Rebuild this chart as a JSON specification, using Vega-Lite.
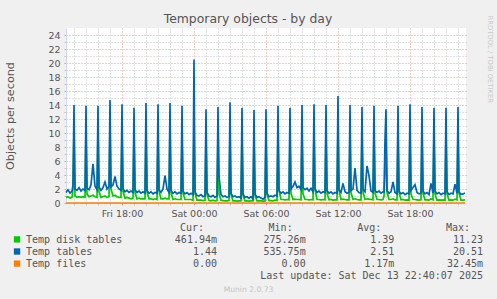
{
"$schema": "https://vega.github.io/schema/vega-lite/v6.json",
"width": 400, "height": 175,
"autosize": "none",
"padding": {"left": 66, "top": 28, "right": 31, "bottom": 96},
"background": "#f0f0f0",
"config": {"font": "DejaVu Sans", "view": {"fill": "#ffffff", "stroke": null}},
"title": {"text": "Temporary objects - by day", "font": "DejaVu Sans", "fontSize": 12.4, "fontWeight": "normal", "color": "#555555", "baseline": "alphabetic", "offset": -20, "dx": -18, "anchor": "middle", "frame": "group"},
"datasets": {
"series": [{"row": 1, "col": 0, "series": "Temp disk tables"}, {"row": 2, "col": 0, "series": "Temp tables"}, {"row": 3, "col": 0, "series": "Temp files"}],
"stats": [
  {"row": 1, "col": 1, "txt": "461.94m"}, {"row": 1, "col": 2, "txt": "275.26m"}, {"row": 1, "col": 3, "txt": "1.39\u00a0"}, {"row": 1, "col": 4, "txt": "11.23\u00a0"},
  {"row": 2, "col": 1, "txt": "1.44\u00a0"}, {"row": 2, "col": 2, "txt": "535.75m"}, {"row": 2, "col": 3, "txt": "2.51\u00a0"}, {"row": 2, "col": 4, "txt": "20.51\u00a0"},
  {"row": 3, "col": 1, "txt": "0.00\u00a0"}, {"row": 3, "col": 2, "txt": "0.00\u00a0"}, {"row": 3, "col": 3, "txt": "1.17m"}, {"row": 3, "col": 4, "txt": "32.45m"},
  {"row": 4, "col": 4, "txt": "Last update: Sat Dec 13 22:40:07 2025"}],
"header": [{"row": 0, "col": 1, "txt": "Cur:"}, {"row": 0, "col": 2, "txt": "Min:"}, {"row": 0, "col": 3, "txt": "Avg:"}, {"row": 0, "col": 4, "txt": "Max:"}],
"ts": [
{"t":"2025-12-12T13:20","d":0.8,"b":1.5,"f":0},
{"t":"2025-12-12T13:30","d":0.9,"b":1.9,"f":0},
{"t":"2025-12-12T13:40","d":0.7,"b":1.4,"f":0},
{"t":"2025-12-12T13:50","d":0.8,"b":1.7,"f":0},
{"t":"2025-12-12T13:55","d":2.0,"b":2.6,"f":0},
{"t":"2025-12-12T14:00","d":10.5,"b":14.0,"f":0},
{"t":"2025-12-12T14:05","d":1.0,"b":2.0,"f":0},
{"t":"2025-12-12T14:15","d":0.8,"b":1.8,"f":0},
{"t":"2025-12-12T14:25","d":0.9,"b":2.2,"f":0},
{"t":"2025-12-12T14:35","d":0.8,"b":1.7,"f":0},
{"t":"2025-12-12T14:45","d":0.9,"b":2.0,"f":0},
{"t":"2025-12-12T14:55","d":0.8,"b":1.8,"f":0},
{"t":"2025-12-12T15:00","d":10.0,"b":13.9,"f":0},
{"t":"2025-12-12T15:05","d":1.3,"b":2.1,"f":0},
{"t":"2025-12-12T15:15","d":0.9,"b":1.9,"f":0},
{"t":"2025-12-12T15:25","d":1.0,"b":2.6,"f":0},
{"t":"2025-12-12T15:35","d":1.1,"b":5.6,"f":0},
{"t":"2025-12-12T15:45","d":0.9,"b":2.4,"f":0},
{"t":"2025-12-12T15:55","d":0.8,"b":1.9,"f":0},
{"t":"2025-12-12T16:00","d":10.2,"b":13.9,"f":0},
{"t":"2025-12-12T16:05","d":1.6,"b":2.3,"f":0},
{"t":"2025-12-12T16:15","d":0.8,"b":1.8,"f":0},
{"t":"2025-12-12T16:25","d":0.9,"b":2.2,"f":0},
{"t":"2025-12-12T16:35","d":1.0,"b":3.0,"f":0},
{"t":"2025-12-12T16:45","d":0.8,"b":2.0,"f":0},
{"t":"2025-12-12T16:55","d":0.9,"b":2.4,"f":0},
{"t":"2025-12-12T17:00","d":11.2,"b":14.7,"f":0},
{"t":"2025-12-12T17:05","d":2.0,"b":2.3,"f":0},
{"t":"2025-12-12T17:15","d":1.0,"b":2.6,"f":0},
{"t":"2025-12-12T17:25","d":1.1,"b":3.8,"f":0},
{"t":"2025-12-12T17:35","d":0.9,"b":2.4,"f":0},
{"t":"2025-12-12T17:45","d":0.8,"b":2.0,"f":0},
{"t":"2025-12-12T17:55","d":0.8,"b":1.8,"f":0},
{"t":"2025-12-12T18:00","d":10.4,"b":14.1,"f":0},
{"t":"2025-12-12T18:05","d":1.7,"b":2.0,"f":0},
{"t":"2025-12-12T18:15","d":0.7,"b":1.6,"f":0},
{"t":"2025-12-12T18:25","d":0.8,"b":1.8,"f":0},
{"t":"2025-12-12T18:35","d":0.7,"b":1.5,"f":0},
{"t":"2025-12-12T18:45","d":0.6,"b":1.7,"f":0},
{"t":"2025-12-12T18:55","d":0.7,"b":1.5,"f":0},
{"t":"2025-12-12T19:00","d":9.8,"b":13.6,"f":0},
{"t":"2025-12-12T19:05","d":1.5,"b":1.9,"f":0},
{"t":"2025-12-12T19:15","d":0.6,"b":1.5,"f":0},
{"t":"2025-12-12T19:25","d":0.7,"b":1.7,"f":0},
{"t":"2025-12-12T19:35","d":0.6,"b":1.4,"f":0},
{"t":"2025-12-12T19:45","d":0.6,"b":1.6,"f":0},
{"t":"2025-12-12T19:55","d":0.6,"b":1.4,"f":0},
{"t":"2025-12-12T20:00","d":10.6,"b":14.3,"f":0},
{"t":"2025-12-12T20:05","d":1.6,"b":1.8,"f":0},
{"t":"2025-12-12T20:15","d":0.6,"b":1.4,"f":0},
{"t":"2025-12-12T20:25","d":0.6,"b":1.6,"f":0},
{"t":"2025-12-12T20:35","d":0.5,"b":1.3,"f":0},
{"t":"2025-12-12T20:45","d":0.6,"b":1.5,"f":0},
{"t":"2025-12-12T20:55","d":0.5,"b":1.4,"f":0},
{"t":"2025-12-12T21:00","d":10.1,"b":14.1,"f":0},
{"t":"2025-12-12T21:05","d":1.7,"b":1.9,"f":0},
{"t":"2025-12-12T21:15","d":0.6,"b":1.5,"f":0},
{"t":"2025-12-12T21:25","d":0.6,"b":2.0,"f":0},
{"t":"2025-12-12T21:35","d":0.7,"b":3.9,"f":0},
{"t":"2025-12-12T21:45","d":0.6,"b":2.0,"f":0},
{"t":"2025-12-12T21:55","d":0.6,"b":1.5,"f":0},
{"t":"2025-12-12T22:00","d":10.8,"b":14.3,"f":0},
{"t":"2025-12-12T22:05","d":1.5,"b":1.8,"f":0},
{"t":"2025-12-12T22:15","d":0.5,"b":1.4,"f":0},
{"t":"2025-12-12T22:25","d":0.6,"b":1.6,"f":0},
{"t":"2025-12-12T22:35","d":0.5,"b":1.3,"f":0},
{"t":"2025-12-12T22:45","d":0.5,"b":1.5,"f":0},
{"t":"2025-12-12T22:55","d":0.5,"b":1.4,"f":0},
{"t":"2025-12-12T23:00","d":9.9,"b":13.9,"f":0},
{"t":"2025-12-12T23:05","d":1.4,"b":1.7,"f":0},
{"t":"2025-12-12T23:15","d":0.5,"b":1.3,"f":0},
{"t":"2025-12-12T23:25","d":0.5,"b":1.5,"f":0},
{"t":"2025-12-12T23:35","d":0.5,"b":1.2,"f":0},
{"t":"2025-12-12T23:45","d":0.5,"b":1.4,"f":0},
{"t":"2025-12-12T23:55","d":0.4,"b":1.2,"f":0},
{"t":"2025-12-13T00:00","d":11.0,"b":20.5,"f":0},
{"t":"2025-12-13T00:05","d":1.4,"b":1.6,"f":0},
{"t":"2025-12-13T00:15","d":0.4,"b":1.1,"f":0},
{"t":"2025-12-13T00:25","d":0.4,"b":1.0,"f":0},
{"t":"2025-12-13T00:35","d":0.4,"b":1.2,"f":0},
{"t":"2025-12-13T00:45","d":0.35,"b":0.9,"f":0},
{"t":"2025-12-13T00:55","d":0.4,"b":1.0,"f":0},
{"t":"2025-12-13T01:00","d":9.6,"b":13.4,"f":0},
{"t":"2025-12-13T01:05","d":1.2,"b":1.5,"f":0},
{"t":"2025-12-13T01:15","d":0.35,"b":1.0,"f":0},
{"t":"2025-12-13T01:25","d":0.3,"b":0.9,"f":0},
{"t":"2025-12-13T01:35","d":0.4,"b":1.1,"f":0},
{"t":"2025-12-13T01:45","d":0.3,"b":0.8,"f":0},
{"t":"2025-12-13T01:55","d":0.35,"b":1.0,"f":0},
{"t":"2025-12-13T02:00","d":10.0,"b":13.7,"f":0},
{"t":"2025-12-13T02:05","d":1.3,"b":3.8,"f":0.03},
{"t":"2025-12-13T02:15","d":0.4,"b":1.2,"f":0},
{"t":"2025-12-13T02:25","d":0.35,"b":0.9,"f":0},
{"t":"2025-12-13T02:35","d":0.3,"b":1.0,"f":0},
{"t":"2025-12-13T02:45","d":0.3,"b":0.8,"f":0},
{"t":"2025-12-13T02:55","d":0.35,"b":0.9,"f":0},
{"t":"2025-12-13T03:00","d":10.4,"b":14.4,"f":0},
{"t":"2025-12-13T03:05","d":1.2,"b":1.4,"f":0},
{"t":"2025-12-13T03:15","d":0.3,"b":0.9,"f":0},
{"t":"2025-12-13T03:25","d":0.3,"b":1.0,"f":0},
{"t":"2025-12-13T03:35","d":0.28,"b":0.8,"f":0},
{"t":"2025-12-13T03:45","d":0.3,"b":0.9,"f":0},
{"t":"2025-12-13T03:55","d":0.3,"b":0.7,"f":0},
{"t":"2025-12-13T04:00","d":9.8,"b":13.6,"f":0},
{"t":"2025-12-13T04:05","d":1.1,"b":1.3,"f":0},
{"t":"2025-12-13T04:15","d":0.3,"b":0.8,"f":0},
{"t":"2025-12-13T04:25","d":0.3,"b":0.9,"f":0},
{"t":"2025-12-13T04:35","d":0.28,"b":0.7,"f":0},
{"t":"2025-12-13T04:45","d":0.3,"b":0.9,"f":0},
{"t":"2025-12-13T04:55","d":0.3,"b":0.6,"f":0},
{"t":"2025-12-13T05:00","d":9.5,"b":13.3,"f":0},
{"t":"2025-12-13T05:05","d":1.1,"b":1.3,"f":0},
{"t":"2025-12-13T05:15","d":0.3,"b":0.8,"f":0},
{"t":"2025-12-13T05:25","d":0.3,"b":0.9,"f":0},
{"t":"2025-12-13T05:35","d":0.3,"b":0.7,"f":0},
{"t":"2025-12-13T05:45","d":0.28,"b":0.54,"f":0},
{"t":"2025-12-13T05:55","d":0.3,"b":0.8,"f":0},
{"t":"2025-12-13T06:00","d":9.7,"b":13.4,"f":0},
{"t":"2025-12-13T06:05","d":1.2,"b":1.4,"f":0},
{"t":"2025-12-13T06:15","d":0.35,"b":0.9,"f":0},
{"t":"2025-12-13T06:25","d":0.35,"b":1.0,"f":0},
{"t":"2025-12-13T06:35","d":0.3,"b":0.9,"f":0},
{"t":"2025-12-13T06:45","d":0.4,"b":1.1,"f":0},
{"t":"2025-12-13T06:55","d":0.35,"b":1.0,"f":0},
{"t":"2025-12-13T07:00","d":10.0,"b":13.9,"f":0},
{"t":"2025-12-13T07:05","d":1.8,"b":1.8,"f":0},
{"t":"2025-12-13T07:15","d":0.5,"b":1.4,"f":0},
{"t":"2025-12-13T07:25","d":0.5,"b":1.6,"f":0},
{"t":"2025-12-13T07:35","d":0.45,"b":1.3,"f":0},
{"t":"2025-12-13T07:45","d":0.5,"b":1.5,"f":0},
{"t":"2025-12-13T07:55","d":0.45,"b":1.4,"f":0},
{"t":"2025-12-13T08:00","d":9.9,"b":13.6,"f":0},
{"t":"2025-12-13T08:05","d":1.4,"b":2.0,"f":0},
{"t":"2025-12-13T08:15","d":0.5,"b":2.4,"f":0},
{"t":"2025-12-13T08:25","d":0.55,"b":3.0,"f":0},
{"t":"2025-12-13T08:35","d":0.5,"b":2.2,"f":0},
{"t":"2025-12-13T08:45","d":0.5,"b":2.4,"f":0},
{"t":"2025-12-13T08:55","d":0.45,"b":1.9,"f":0},
{"t":"2025-12-13T09:00","d":10.2,"b":14.0,"f":0},
{"t":"2025-12-13T09:05","d":1.3,"b":2.2,"f":0},
{"t":"2025-12-13T09:15","d":0.5,"b":1.9,"f":0},
{"t":"2025-12-13T09:25","d":0.5,"b":2.1,"f":0},
{"t":"2025-12-13T09:35","d":0.45,"b":1.7,"f":0},
{"t":"2025-12-13T09:45","d":0.5,"b":2.1,"f":0},
{"t":"2025-12-13T09:55","d":0.45,"b":1.6,"f":0},
{"t":"2025-12-13T10:00","d":10.3,"b":14.1,"f":0},
{"t":"2025-12-13T10:05","d":2.0,"b":2.0,"f":0},
{"t":"2025-12-13T10:15","d":0.5,"b":1.5,"f":0},
{"t":"2025-12-13T10:25","d":0.5,"b":1.7,"f":0},
{"t":"2025-12-13T10:35","d":0.45,"b":1.4,"f":0},
{"t":"2025-12-13T10:45","d":0.5,"b":1.6,"f":0},
{"t":"2025-12-13T10:55","d":0.45,"b":1.5,"f":0},
{"t":"2025-12-13T11:00","d":10.1,"b":14.0,"f":0},
{"t":"2025-12-13T11:05","d":1.4,"b":1.8,"f":0},
{"t":"2025-12-13T11:15","d":0.45,"b":1.4,"f":0},
{"t":"2025-12-13T11:25","d":0.5,"b":1.6,"f":0},
{"t":"2025-12-13T11:35","d":0.4,"b":1.3,"f":0},
{"t":"2025-12-13T11:45","d":0.45,"b":1.5,"f":0},
{"t":"2025-12-13T11:55","d":0.45,"b":1.4,"f":0},
{"t":"2025-12-13T12:00","d":11.0,"b":15.3,"f":0},
{"t":"2025-12-13T12:05","d":1.8,"b":1.9,"f":0},
{"t":"2025-12-13T12:15","d":0.5,"b":1.5,"f":0},
{"t":"2025-12-13T12:25","d":0.55,"b":2.8,"f":0},
{"t":"2025-12-13T12:35","d":0.5,"b":1.6,"f":0},
{"t":"2025-12-13T12:45","d":0.45,"b":1.4,"f":0},
{"t":"2025-12-13T12:55","d":0.45,"b":1.5,"f":0},
{"t":"2025-12-13T13:00","d":10.3,"b":14.0,"f":0},
{"t":"2025-12-13T13:05","d":1.5,"b":1.8,"f":0},
{"t":"2025-12-13T13:15","d":0.5,"b":2.0,"f":0},
{"t":"2025-12-13T13:25","d":0.6,"b":5.0,"f":0},
{"t":"2025-12-13T13:35","d":0.5,"b":1.8,"f":0},
{"t":"2025-12-13T13:45","d":0.45,"b":1.5,"f":0},
{"t":"2025-12-13T13:55","d":0.45,"b":1.4,"f":0},
{"t":"2025-12-13T14:00","d":10.0,"b":13.7,"f":0},
{"t":"2025-12-13T14:05","d":1.6,"b":1.9,"f":0},
{"t":"2025-12-13T14:15","d":0.5,"b":1.6,"f":0},
{"t":"2025-12-13T14:25","d":0.6,"b":5.3,"f":0},
{"t":"2025-12-13T14:35","d":0.55,"b":3.9,"f":0},
{"t":"2025-12-13T14:45","d":0.5,"b":1.7,"f":0},
{"t":"2025-12-13T14:55","d":0.45,"b":1.5,"f":0},
{"t":"2025-12-13T15:00","d":10.2,"b":13.9,"f":0},
{"t":"2025-12-13T15:05","d":1.5,"b":1.8,"f":0},
{"t":"2025-12-13T15:15","d":0.5,"b":1.5,"f":0},
{"t":"2025-12-13T15:25","d":0.5,"b":1.7,"f":0},
{"t":"2025-12-13T15:35","d":0.45,"b":1.4,"f":0},
{"t":"2025-12-13T15:45","d":0.5,"b":1.6,"f":0},
{"t":"2025-12-13T15:50","d":1.0,"b":1.6,"f":0},
{"t":"2025-12-13T15:55","d":4.0,"b":9.0,"f":0},
{"t":"2025-12-13T16:00","d":10.4,"b":13.4,"f":0},
{"t":"2025-12-13T16:05","d":1.6,"b":1.8,"f":0},
{"t":"2025-12-13T16:15","d":0.5,"b":1.4,"f":0},
{"t":"2025-12-13T16:25","d":0.5,"b":1.6,"f":0},
{"t":"2025-12-13T16:35","d":0.6,"b":3.0,"f":0},
{"t":"2025-12-13T16:45","d":0.45,"b":1.5,"f":0},
{"t":"2025-12-13T16:55","d":0.45,"b":1.3,"f":0},
{"t":"2025-12-13T17:00","d":10.1,"b":13.9,"f":0},
{"t":"2025-12-13T17:05","d":1.5,"b":1.7,"f":0},
{"t":"2025-12-13T17:15","d":0.45,"b":1.3,"f":0},
{"t":"2025-12-13T17:25","d":0.5,"b":1.5,"f":0},
{"t":"2025-12-13T17:35","d":0.4,"b":1.2,"f":0},
{"t":"2025-12-13T17:45","d":0.45,"b":1.4,"f":0},
{"t":"2025-12-13T17:55","d":0.4,"b":1.3,"f":0},
{"t":"2025-12-13T18:00","d":10.5,"b":14.1,"f":0},
{"t":"2025-12-13T18:05","d":1.3,"b":1.8,"f":0},
{"t":"2025-12-13T18:15","d":0.5,"b":2.2,"f":0},
{"t":"2025-12-13T18:25","d":0.5,"b":2.6,"f":0},
{"t":"2025-12-13T18:35","d":0.45,"b":1.5,"f":0},
{"t":"2025-12-13T18:45","d":0.4,"b":1.3,"f":0},
{"t":"2025-12-13T18:55","d":0.45,"b":1.4,"f":0},
{"t":"2025-12-13T19:00","d":9.9,"b":13.7,"f":0},
{"t":"2025-12-13T19:05","d":1.4,"b":1.7,"f":0},
{"t":"2025-12-13T19:15","d":0.45,"b":1.3,"f":0},
{"t":"2025-12-13T19:25","d":0.45,"b":1.5,"f":0},
{"t":"2025-12-13T19:35","d":0.4,"b":1.2,"f":0},
{"t":"2025-12-13T19:45","d":0.6,"b":2.8,"f":0},
{"t":"2025-12-13T19:55","d":0.45,"b":1.4,"f":0},
{"t":"2025-12-13T20:00","d":9.8,"b":13.6,"f":0},
{"t":"2025-12-13T20:05","d":1.3,"b":1.7,"f":0},
{"t":"2025-12-13T20:15","d":0.4,"b":1.3,"f":0},
{"t":"2025-12-13T20:25","d":0.45,"b":1.5,"f":0},
{"t":"2025-12-13T20:35","d":0.4,"b":1.2,"f":0},
{"t":"2025-12-13T20:45","d":0.45,"b":1.4,"f":0},
{"t":"2025-12-13T20:55","d":0.4,"b":1.3,"f":0},
{"t":"2025-12-13T21:00","d":9.9,"b":13.6,"f":0},
{"t":"2025-12-13T21:05","d":1.3,"b":1.6,"f":0},
{"t":"2025-12-13T21:15","d":0.4,"b":1.2,"f":0},
{"t":"2025-12-13T21:25","d":0.45,"b":1.4,"f":0},
{"t":"2025-12-13T21:35","d":0.4,"b":1.3,"f":0},
{"t":"2025-12-13T21:45","d":0.55,"b":2.7,"f":0},
{"t":"2025-12-13T21:55","d":0.45,"b":1.4,"f":0},
{"t":"2025-12-13T22:00","d":10.1,"b":13.7,"f":0},
{"t":"2025-12-13T22:05","d":1.4,"b":1.6,"f":0},
{"t":"2025-12-13T22:15","d":0.4,"b":1.2,"f":0},
{"t":"2025-12-13T22:25","d":0.4,"b":1.3,"f":0},
{"t":"2025-12-13T22:35","d":0.46,"b":1.44,"f":0}
]},
"layer": [
{
"data": {"name": "ts"},
"resolve": {"axis": {"x": "independent", "y": "independent"}},
"layer": [
{"mark": {"type": "line", "strokeWidth": 1.7},
 "encoding": {
  "x": {"field": "t", "type": "temporal", "title": "Munin 2.0.73",
        "scale": {"domain": [{"year": 2025, "month": 12, "date": 12, "hours": 13, "minutes": 20}, {"year": 2025, "month": 12, "date": 13, "hours": 22, "minutes": 40}]},
        "axis": {"orient": "bottom",
                 "values": [{"year": 2025, "month": 12, "date": 12, "hours": 18}, {"year": 2025, "month": 12, "date": 13, "hours": 0}, {"year": 2025, "month": 12, "date": 13, "hours": 6}, {"year": 2025, "month": 12, "date": 13, "hours": 12}, {"year": 2025, "month": 12, "date": 13, "hours": 18}],
                 "format": "%a %H:%M", "labelOverlap": false, "labelFlush": false, "labelFontSize": 9.5, "labelColor": "#555555", "labelPadding": 3,
                 "tickSize": 2, "tickColor": "#e79a9a",
                 "grid": true, "gridColor": "#e79a9a", "gridDash": [1, 2], "gridWidth": 1, "domainColor": "#cfd6f8",
                 "titleColor": "#c4c4c4", "titleFontSize": 7.6, "titleFontWeight": "normal", "titleX": 182, "titleY": 88, "titleBaseline": "alphabetic", "titleAlign": "center"}},
  "y": {"field": "d", "type": "quantitative", "title": "Objects per second",
        "scale": {"domain": [0, 25], "nice": false, "zero": false},
        "axis": {"orient": "left", "values": [0,2,4,6,8,10,12,14,16,18,20,22,24],
                 "labelOverlap": false, "labelFontSize": 9.5, "labelColor": "#555555", "labelPadding": 4,
                 "tickSize": 2, "tickColor": "#e79a9a",
                 "grid": true, "gridColor": "#e79a9a", "gridDash": [1, 2], "gridWidth": 1, "domainColor": "#cfd6f8",
                 "titleFontSize": 11.2, "titleFontWeight": "normal", "titleColor": "#555555", "titleX": -55.5, "titleY": 87.5, "titleBaseline": "middle", "titleAlign": "center", "titleAngle": -90}},
  "color": {"datum": "Temp disk tables", "type": "nominal", "scale": {"domain": ["Temp disk tables", "Temp tables", "Temp files"], "range": ["#00cc00", "#0066b3", "#ff8000"]}, "legend": null}
 }},
{"mark": {"type": "line", "strokeWidth": 1.7},
 "encoding": {
  "x": {"field": "t", "type": "temporal",
        "axis": {"orient": "bottom", "title": null, "labels": false, "domain": false,
                 "values": [{"year": 2025, "month": 12, "date": 12, "hours": 14}, {"year": 2025, "month": 12, "date": 12, "hours": 15}, {"year": 2025, "month": 12, "date": 12, "hours": 16},
                   {"year": 2025, "month": 12, "date": 12, "hours": 17}, {"year": 2025, "month": 12, "date": 12, "hours": 19},
                   {"year": 2025, "month": 12, "date": 12, "hours": 20}, {"year": 2025, "month": 12, "date": 12, "hours": 21}, {"year": 2025, "month": 12, "date": 12, "hours": 22},
                   {"year": 2025, "month": 12, "date": 12, "hours": 23}, {"year": 2025, "month": 12, "date": 13, "hours": 1},
                   {"year": 2025, "month": 12, "date": 13, "hours": 2}, {"year": 2025, "month": 12, "date": 13, "hours": 3}, {"year": 2025, "month": 12, "date": 13, "hours": 4},
                   {"year": 2025, "month": 12, "date": 13, "hours": 5}, {"year": 2025, "month": 12, "date": 13, "hours": 7},
                   {"year": 2025, "month": 12, "date": 13, "hours": 8}, {"year": 2025, "month": 12, "date": 13, "hours": 9}, {"year": 2025, "month": 12, "date": 13, "hours": 10},
                   {"year": 2025, "month": 12, "date": 13, "hours": 11}, {"year": 2025, "month": 12, "date": 13, "hours": 13},
                   {"year": 2025, "month": 12, "date": 13, "hours": 14}, {"year": 2025, "month": 12, "date": 13, "hours": 15}, {"year": 2025, "month": 12, "date": 13, "hours": 16},
                   {"year": 2025, "month": 12, "date": 13, "hours": 17}, {"year": 2025, "month": 12, "date": 13, "hours": 19},
                   {"year": 2025, "month": 12, "date": 13, "hours": 20}, {"year": 2025, "month": 12, "date": 13, "hours": 21}, {"year": 2025, "month": 12, "date": 13, "hours": 22}],
                 "tickSize": 2, "tickColor": "#c4c4c4", "grid": true, "gridColor": "#c4c4c4", "gridDash": [1, 2], "gridWidth": 1}},
  "y": {"field": "b", "type": "quantitative", "scale": {"domain": [0, 25], "nice": false, "zero": false},
        "axis": {"orient": "left", "title": null, "labels": false, "domain": false,
                 "values": [1,3,5,7,9,11,13,15,17,19,21,23],
                 "tickSize": 2, "tickColor": "#c4c4c4", "grid": true, "gridColor": "#c4c4c4", "gridDash": [1, 2], "gridWidth": 1}},
  "color": {"datum": "Temp tables", "type": "nominal", "legend": null}
 }},
{"mark": {"type": "line", "strokeWidth": 1.7},
 "encoding": {
  "x": {"field": "t", "type": "temporal", "axis": null},
  "y": {"field": "f", "type": "quantitative", "scale": {"domain": [0, 25], "nice": false, "zero": false}, "axis": null},
  "color": {"datum": "Temp files", "type": "nominal", "legend": null}
 }}
]
},
{
"encoding": {
  "x": {"field": "col", "type": "quantitative", "scale": {"domain": [1, 4], "range": [151, 417], "nice": false, "zero": false}, "axis": null},
  "y": {"field": "row", "type": "quantitative", "scale": {"domain": [0, 4], "range": [203, 251.4], "nice": false, "zero": false},
        "axis": {"orient": "right", "title": "RRDTOOL / TOBI OETIKER", "labels": false, "ticks": false, "domain": false, "grid": false,
                 "titleAngle": 90, "titleX": 23, "titleY": -13, "titleAlign": "left", "titleBaseline": "middle",
                 "titleFontSize": 6.8, "titleColor": "#c8c8c8", "titleFontWeight": "normal", "titleFont": "DejaVu Sans"}}
},
"layer": [
{"data": {"name": "header"},
 "mark": {"type": "text", "align": "right", "baseline": "alphabetic", "dx": -13, "font": "DejaVu Sans Mono", "fontSize": 10, "color": "#555555"},
 "encoding": {"text": {"field": "txt"}}},
{"data": {"name": "stats"},
 "mark": {"type": "text", "align": "right", "baseline": "alphabetic", "font": "DejaVu Sans Mono", "fontSize": 10, "color": "#555555"},
 "encoding": {"text": {"field": "txt"}}},
{"data": {"name": "series"},
 "mark": {"type": "text", "align": "left", "baseline": "alphabetic", "dx": -102.3, "font": "DejaVu Sans Mono", "fontSize": 10, "color": "#555555"},
 "encoding": {"text": {"field": "series"}}},
{"data": {"name": "series"},
 "mark": {"type": "square", "size": 40, "opacity": 1, "filled": true, "xOffset": -111.3, "yOffset": -3.7},
 "encoding": {"color": {"field": "series", "type": "nominal", "legend": null}}}
]
}
],
"resolve": {"scale": {"x": "independent", "y": "independent"}}
}
